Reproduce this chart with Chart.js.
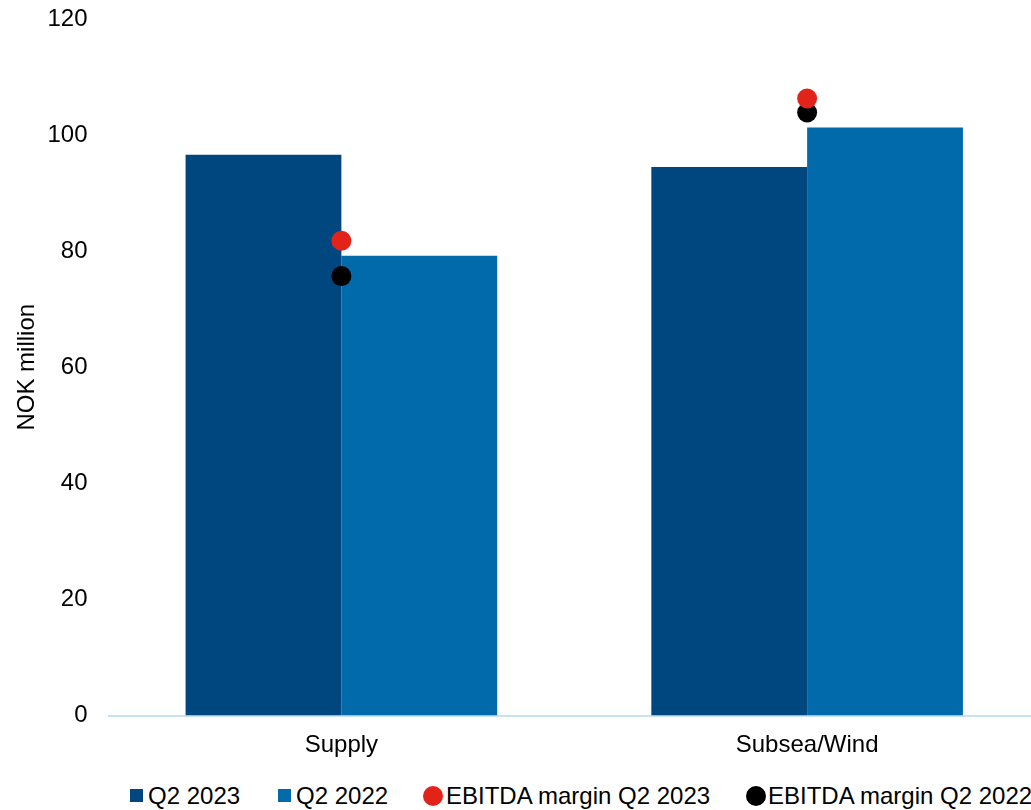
<!DOCTYPE html>
<html>
<head>
<meta charset="utf-8">
<script src="https://cdn.jsdelivr.net/npm/chart.js@4.4.0/dist/chart.umd.min.js"></script>
<style>
  html, body { margin: 0; padding: 0; background: #fff; overflow: hidden; }
  #wrap { position: relative; width: 1031px; height: 810px; overflow: hidden; }
  #chartBars { position: absolute; left: 0; top: 0; }
  .lg { position: absolute; top: 782px; height: 28px; line-height: 28px; font: 24px "Liberation Sans", Arial, sans-serif; color: #000; white-space: nowrap; }
  .sw { position: absolute; }
</style>
</head>
<body>
<div id="wrap">
  <canvas id="chartBars" width="1050" height="770"></canvas>
  <div class="lg" style="left:130px"><span class="sw" style="left:0;top:7px;width:13px;height:13px;background:#00467f"></span><span style="position:absolute;left:18px">Q2 2023</span></div>
  <div class="lg" style="left:278px"><span class="sw" style="left:0;top:7px;width:13px;height:13px;background:#006aaa"></span><span style="position:absolute;left:18px">Q2 2022</span></div>
  <div class="lg" style="left:423px"><span class="sw" style="left:0;top:4px;width:20px;height:20px;border-radius:50%;background:#e2231a"></span><span style="position:absolute;left:23px">EBITDA margin Q2 2023</span></div>
  <div class="lg" style="left:746px"><span class="sw" style="left:0;top:4px;width:20px;height:20px;border-radius:50%;background:#000"></span><span style="position:absolute;left:22px">EBITDA margin Q2 2022</span></div>
</div>
<script>
const categories = ['Supply', 'Subsea/Wind'];
const q2_2023 = [96.6, 94.5];
const q2_2022 = [79.2, 101.3];
const marginQ2_2023 = [81.8, 106.3];
const marginQ2_2022 = [75.7, 103.9];
const yTicks = [0, 20, 40, 60, 80, 100, 120];

Chart.defaults.font.family = '"Liberation Sans", Arial, sans-serif';
Chart.defaults.font.size = 24;
Chart.defaults.color = '#000';

const dataBars = {
  labels: categories,
  datasets: [
    {
      type: 'line',
      label: 'EBITDA margin Q2 2023',
      data: marginQ2_2023,
      showLine: false,
      pointRadius: 10,
      pointBorderWidth: 0,
      backgroundColor: '#e2231a',
      borderColor: '#e2231a',
      order: 0,
    },
    {
      type: 'line',
      label: 'EBITDA margin Q2 2022',
      data: marginQ2_2022,
      showLine: false,
      pointRadius: 10,
      pointBorderWidth: 0,
      backgroundColor: '#000',
      borderColor: '#000',
      order: 0,
    },
    {
      label: 'Q2 2023',
      data: q2_2023,
      backgroundColor: '#00467f',
      categoryPercentage: 0.669,
      barPercentage: 1,
      order: 1,
    },
    {
      label: 'Q2 2022',
      data: q2_2022,
      backgroundColor: '#006aaa',
      categoryPercentage: 0.669,
      barPercentage: 1,
      order: 1,
    },
  ],
};

const configBars = {
  type: 'bar',
  data: dataBars,
  options: {
    responsive: false,
    animation: false,
    layout: { padding: { top: 19, right: 0, bottom: 0, left: 0 } },
    plugins: {
      legend: { display: false },
      tooltip: { enabled: false },
    },
    scales: {
      x: {
        grid: { display: false, drawTicks: false },
        border: { display: true, color: '#c9e1f5', width: 2 },
        ticks: { padding: 15 },
        afterFit: function (scale) {
          scale.height = 54.5;
          scale.paddingLeft = 0;
          scale.paddingRight = 0;
        },
      },
      y: {
        min: 0,
        max: 120,
        afterBuildTicks: function (scale) {
          scale.ticks = yTicks.map(function (v) { return { value: v }; });
        },
        grid: { display: false, drawTicks: false },
        border: { display: false },
        ticks: { padding: 21 },
        title: {
          display: true,
          text: 'NOK million',
          padding: { top: 13, bottom: 0 },
        },
        afterFit: function (scale) {
          scale.width = 108.5;
          scale.paddingTop = 0;
          scale.paddingBottom = 0;
        },
      },
    },
  },
};

var chartBars = new Chart(document.getElementById('chartBars'), configBars);
</script>
</body>
</html>
